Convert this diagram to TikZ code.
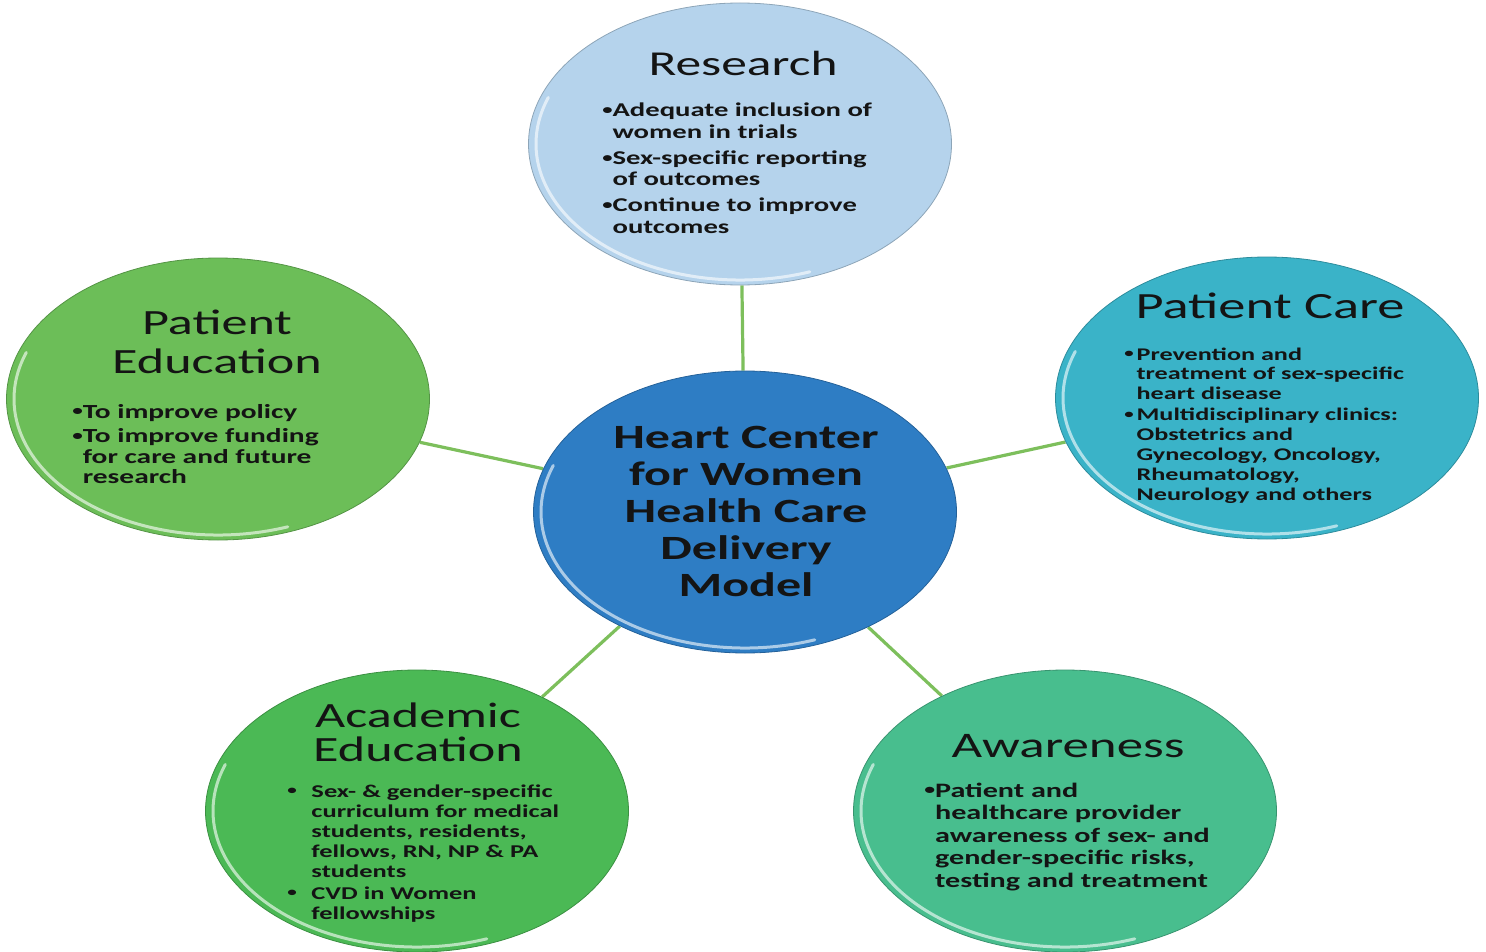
\documentclass[tikz,border=0pt]{standalone}
\usepackage{graphicx}
\usepackage{fontspec}
\setmainfont{Carlito}
\usetikzlibrary{backgrounds}

\definecolor{ink}{HTML}{141414}
\definecolor{linkgreen}{HTML}{7DBF5C}
\definecolor{cResearch}{HTML}{B5D3EC}
\definecolor{cCare}{HTML}{3AB3C8}
\definecolor{cPatEd}{HTML}{6CBE58}
\definecolor{cHub}{HTML}{2E7DC4}
\definecolor{cAcad}{HTML}{4BB955}
\definecolor{cAware}{HTML}{48BE8E}

\tikzset{
  bubble/.style={circle, minimum size=282pt, inner sep=0pt, xscale=1.5,
    fill=#1, draw=#1!78!black, line width=0.8pt},
  link/.style={draw=linkgreen, line width=3.2pt},
  heading/.style={xscale=1.47, inner sep=0pt, text=ink, anchor=base},
  bullets/.style={xscale=1.47, inner sep=0pt, text=ink, anchor=base west},
  gloss/.style={white, opacity=0.6, line width=3pt, line cap=round},
}

% small list bullet
\newcommand{\bul}{\raisebox{0.12em}{\scalebox{0.72}{•}}\hspace{0.08em}}

% bevel highlight along the lower-left rim of a bubble (y axis points down)
\newcommand{\bevel}[1]{%
  \begin{scope}[shift={(#1.center)}, xscale=1.5]
    \draw[gloss] (70:136) arc[start angle=70, end angle=200, radius=136];
  \end{scope}}

\begin{document}
\begin{tikzpicture}[x=1pt, y=-1pt]
\useasboundingbox (0,0) rectangle (1486,952);

% the six bubbles
\node[bubble=cHub]      (hub)      at (745,512) {};
\node[bubble=cResearch] (research) at (740,144) {};
\node[bubble=cCare]     (care)     at (1267,398) {};
\node[bubble=cPatEd]    (pated)    at (218,399) {};
\node[bubble=cAcad]     (acad)     at (417,811) {};
\node[bubble=cAware]    (aware)    at (1065,811) {};

\foreach \b in {hub,research,care,pated,acad,aware} {\bevel{\b}}

% spokes from the hub, behind the bubbles
\begin{pgfonlayer}{background}
  \draw[link] (hub) -- (research);
  \draw[link] (hub) -- (care);
  \draw[link] (hub) -- (pated);
  \draw[link] (hub) -- (acad);
  \draw[link] (hub) -- (aware);
\end{pgfonlayer}

% hub label
\node[heading, font=\bfseries\fontsize{34}{37}\selectfont] (hubtxt) at (746,448)
  {\begin{tabular}[t]{@{}c@{}}Heart Center\\for Women\\Health Care\\Delivery\\Model\end{tabular}};

% Research
\node[heading, font=\fontsize{35}{38}\selectfont] (researcht) at (743,76) {Research};
\node[bullets, font=\bfseries\fontsize{19.5}{21.5}\selectfont] (researchb) at (602,117)
  {\begin{tabular}[t]{@{}l@{}l@{}}
   \bul&Adequate inclusion of\\ &women in trials\\[4.5pt]
   \bul&Sex-specific reporting\\ &of outcomes\\[4.5pt]
   \bul&Continue to improve\\ &outcomes
   \end{tabular}};

% Patient Care
\node[heading, font=\fontsize{37}{40}\selectfont] (caret) at (1270,318) {Patient Care};
\node[bullets, font=\bfseries\fontsize{17.8}{19.8}\selectfont] (careb) at (1124,360)
  {\begin{tabular}[t]{@{}l@{\hspace{2pt}}l@{}}
   \bul&Prevention and\\ &treatment of sex-specific\\ &heart disease\\[1.5pt]
   \bul&Multidisciplinary clinics:\\ &Obstetrics and\\ &Gynecology, Oncology,\\
    &Rheumatology,\\ &Neurology and others
   \end{tabular}};

% Patient Education
\node[heading, font=\fontsize{35.5}{39}\selectfont] (patedt) at (217,334)
  {\begin{tabular}[t]{@{}c@{}}Patient\\Education\end{tabular}};
\node[bullets, font=\bfseries\fontsize{20}{20.5}\selectfont] (patedb) at (72,418)
  {\begin{tabular}[t]{@{}l@{}l@{}}
   \bul&To improve policy\\[4pt]
   \bul&To improve funding\\ &for care and future\\ &research
   \end{tabular}};

% Academic Education
\node[heading, font=\fontsize{35.5}{34}\selectfont] (acadt) at (418,727)
  {\begin{tabular}[t]{@{}c@{}}Academic\\Education\end{tabular}};
\node[bullets, font=\bfseries\fontsize{18}{20}\selectfont] (acadb) at (287,797)
  {\begin{tabular}[t]{@{}l@{\hspace{10pt}}l@{}}
   \bul&Sex- \& gender-specific\\ &curriculum for medical\\ &students, residents,\\
    &fellows, RN, NP \& PA\\ &students\\[2pt]
   \bul&CVD in Women\\ &fellowships
   \end{tabular}};

% Awareness
\node[heading, font=\fontsize{36}{38}\selectfont] (awaret) at (1068,757) {Awareness};
\node[bullets, font=\bfseries\fontsize{20.5}{22.5}\selectfont] (awareb) at (924,797)
  {\begin{tabular}[t]{@{}l@{}l@{}}
   \bul&Patient and\\ &healthcare provider\\ &awareness of sex- and\\
    &gender-specific risks,\\ &testing and treatment
   \end{tabular}};
\end{tikzpicture}
\end{document}
